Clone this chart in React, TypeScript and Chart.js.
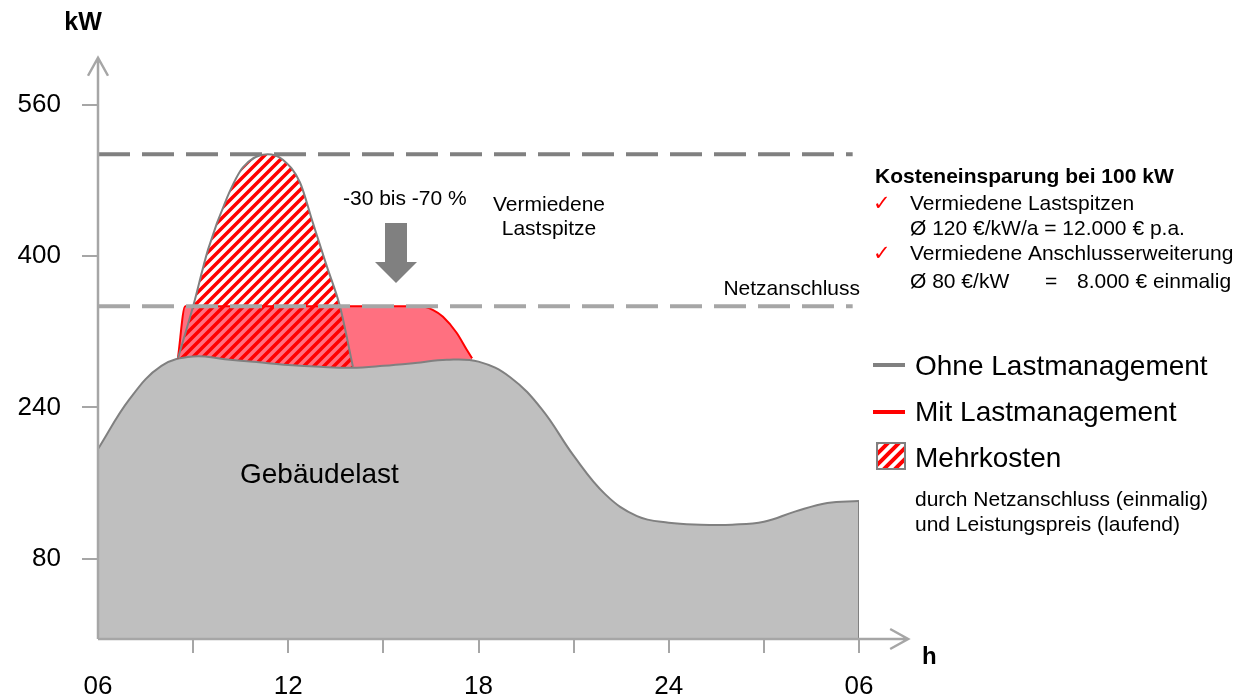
import React, { useEffect, useRef } from 'react';
import { Chart, registerables } from 'chart.js';

Chart.register(...registerables);

const FONT = '"Liberation Sans", Arial, Helvetica, sans-serif';

// Gebäudelast (Grundlast ohne Spitze), kW über Uhrzeit (h, 06 bis 06 = 30)
const loadHours = [6, 7, 8, 9, 10, 11, 12, 13, 14, 15, 16, 17, 18, 19, 20, 21, 22, 23, 24, 25, 26, 27, 28, 29, 30];
const loadValues = [196, 249, 284, 294, 291, 288, 285, 283, 282, 284, 287, 290.5, 288.5, 272, 238, 189, 148, 125, 118, 116, 116, 119, 130, 139, 141];

// Mit Lastmanagement (auf Netzanschluss begrenzt)
const withHours = [8.52, 8.75, 12, 16.2, 16.57, 16.88, 17.31, 17.63, 17.8];
const withValues = [292, 347, 347, 347, 343, 336, 319, 301, 292];

// Ohne Lastmanagement (Lastspitze)
const withoutHours = [8.52, 9.0, 9.47, 10.07, 10.57, 11.35, 11.83, 12.37, 12.78, 13.22, 13.63, 14.04];
const withoutValues = [292, 347, 407, 462, 494, 508, 502, 478, 435, 389, 347, 283];

// Referenzlinien
const peakLevel = 508;
const gridLevel = 347;
const refLineHours = [6, 29.8];

// Achsen
const xTickHours = [6, 9, 12, 15, 18, 21, 24, 27, 30];
const xTickLabels = ['06', '', '12', '', '18', '', '24', '', '06'];
const yTickValues = [80, 240, 400, 560];
const yMin = -5;
const yMax = 560;
const yArrowTop = 610;
const xArrowEnd = 31.55;

const zip = (xs: number[], ys: number[]) => xs.map((x, i) => ({ x, y: ys[i] }));

function makeHatch(ctx: CanvasRenderingContext2D, bg: string | null, size = 10, width = 3.5) {
  const c = document.createElement('canvas');
  c.width = size;
  c.height = size;
  const g = c.getContext('2d')!;
  if (bg) {
    g.fillStyle = bg;
    g.fillRect(0, 0, size, size);
  }
  g.strokeStyle = '#ff0000';
  g.lineWidth = width;
  g.beginPath();
  g.moveTo(-size / 2, size / 2);
  g.lineTo(size / 2, -size / 2);
  g.moveTo(0, size);
  g.lineTo(size, 0);
  g.moveTo(size / 2, size * 1.5);
  g.lineTo(size * 1.5, size / 2);
  g.stroke();
  return ctx.createPattern(c, 'repeat')!;
}

function text(ctx: CanvasRenderingContext2D, s: string, x: number, y: number, size: number, opts: { bold?: boolean; align?: CanvasTextAlign; color?: string; family?: string } = {}) {
  ctx.font = `${opts.bold ? 'bold ' : ''}${size}px ${opts.family || FONT}`;
  ctx.fillStyle = opts.color || '#000';
  ctx.textAlign = opts.align || 'left';
  ctx.textBaseline = 'alphabetic';
  ctx.fillText(s, x, y);
}

export default function App() {
  const ref = useRef<HTMLCanvasElement>(null);

  useEffect(() => {
    const canvas = ref.current!;
    const ctx = canvas.getContext('2d')!;
    const hatch = makeHatch(ctx, null);
    const legendHatch = makeHatch(ctx, '#ffffff', 11, 4);

    const decor = {
      id: 'decor',
      afterDatasetsDraw(chart: any) {
        const c: CanvasRenderingContext2D = chart.ctx;
        const a = chart.chartArea;
        const xs = chart.scales.x;
        const ys = chart.scales.y;
        c.save();
        // axes with arrows
        const ox = a.left;
        const oy = a.bottom;
        const topY = ys.getPixelForValue(yArrowTop);
        const rightX = xs.getPixelForValue(xArrowEnd);
        c.strokeStyle = '#a6a6a6';
        c.lineWidth = 2.5;
        c.lineJoin = 'miter';
        c.beginPath();
        c.moveTo(ox, oy);
        c.lineTo(ox, topY);
        c.moveTo(ox - 10, topY + 18);
        c.lineTo(ox, topY);
        c.lineTo(ox + 10, topY + 18);
        c.moveTo(ox, oy);
        c.lineTo(rightX, oy);
        c.moveTo(rightX - 18, oy - 10);
        c.lineTo(rightX, oy);
        c.lineTo(rightX - 18, oy + 10);
        c.stroke();

        // down arrow
        c.fillStyle = '#808080';
        c.beginPath();
        c.moveTo(385, 223);
        c.lineTo(407, 223);
        c.lineTo(407, 262);
        c.lineTo(417, 262);
        c.lineTo(396, 283);
        c.lineTo(375, 262);
        c.lineTo(385, 262);
        c.closePath();
        c.fill();

        // axis titles
        text(c, 'kW', 83, 30, 25, { bold: true, align: 'center' });
        text(c, 'h', 922, 664, 24, { bold: true });

        // annotations
        text(c, 'Gebäudelast', 240, 483, 28);
        text(c, '-30 bis -70 %', 343, 205, 21);
        text(c, 'Vermiedene', 549, 211, 21, { align: 'center' });
        text(c, 'Lastspitze', 549, 235, 21, { align: 'center' });
        text(c, 'Netzanschluss', 860, 295, 21, { align: 'right' });

        // cost block
        const check = { color: '#ff0000', family: '"DejaVu Sans", sans-serif' };
        text(c, 'Kosteneinsparung bei 100 kW', 875, 183, 21, { bold: true });
        text(c, '✓', 873, 210, 21, check);
        text(c, 'Vermiedene Lastspitzen', 910, 210, 21);
        text(c, 'Ø 120 €/kW/a = 12.000 € p.a.', 910, 235, 21);
        text(c, '✓', 873, 260, 21, check);
        text(c, 'Vermiedene Anschlusserweiterung', 910, 260, 21);
        text(c, 'Ø 80 €/kW', 910, 288, 21);
        text(c, '=', 1045, 288, 21);
        text(c, '8.000 € einmalig', 1077, 288, 21);

        // legend
        c.lineWidth = 4;
        c.strokeStyle = '#808080';
        c.beginPath();
        c.moveTo(873, 365);
        c.lineTo(905, 365);
        c.stroke();
        c.strokeStyle = '#ff0000';
        c.beginPath();
        c.moveTo(873, 412);
        c.lineTo(905, 412);
        c.stroke();
        c.fillStyle = legendHatch;
        c.fillRect(877, 443, 28, 26);
        c.strokeStyle = '#808080';
        c.lineWidth = 2;
        c.strokeRect(877, 443, 28, 26);
        text(c, 'Ohne Lastmanagement', 915, 375, 28);
        text(c, 'Mit Lastmanagement', 915, 421, 28);
        text(c, 'Mehrkosten', 915, 467, 28);
        text(c, 'durch Netzanschluss (einmalig)', 915, 506, 21);
        text(c, 'und Leistungspreis (laufend)', 915, 531, 21);
        c.restore();
      },
    };

    const last = loadHours.length - 1;
    const chart = new Chart(canvas, {
      type: 'line',
      data: {
        datasets: [
          {
            label: 'Netzanschluss',
            data: refLineHours.map((h) => ({ x: h, y: gridLevel })),
            borderColor: '#a6a6a6',
            borderWidth: 4,
            borderDash: [32, 12],
            borderCapStyle: 'butt',
            fill: false,
            pointRadius: 0,
            order: 0,
          },
          {
            label: 'Vermiedene Lastspitze',
            data: refLineHours.map((h) => ({ x: h, y: peakLevel })),
            borderColor: '#808080',
            borderWidth: 4,
            borderDash: [32, 12],
            borderCapStyle: 'butt',
            fill: false,
            pointRadius: 0,
            order: 1,
          },
          {
            label: 'Gebäudelast',
            data: zip(loadHours, loadValues),
            borderColor: '#808080',
            borderWidth: 2,
            backgroundColor: '#bfbfbf',
            fill: 'start',
            tension: 0.4,
            pointRadius: 0,
            order: 5,
          },
          {
            label: 'Mit Lastmanagement',
            data: zip(withHours, withValues),
            borderColor: '#ff0000',
            borderWidth: 2,
            backgroundColor: '#ff7080',
            fill: 2,
            cubicInterpolationMode: 'monotone',
            pointRadius: 0,
            order: 4,
          },
          {
            label: 'Ohne Lastmanagement',
            data: zip(withoutHours, withoutValues),
            borderColor: '#808080',
            borderWidth: 2,
            backgroundColor: hatch as any,
            fill: 2,
            cubicInterpolationMode: 'monotone',
            pointRadius: 0,
            order: 3,
          },
          {
            label: 'Rand',
            data: [
              { x: loadHours[last], y: loadValues[last] },
              { x: loadHours[last], y: yMin },
            ],
            borderColor: '#808080',
            borderWidth: 2,
            fill: false,
            pointRadius: 0,
            order: 2,
          },
        ] as any,
      },
      options: {
        responsive: false,
        animation: false,
        layout: { padding: { left: 0, top: 105, right: 384, bottom: 0 } },
        plugins: {
          legend: { display: false },
          tooltip: { enabled: false },
          filler: { drawTime: 'beforeDatasetsDraw' } as any,
        },
        events: [],
        scales: {
          x: {
            type: 'linear',
            min: 6,
            max: 30,
            border: { display: false },
            grid: {
              drawOnChartArea: false,
              drawTicks: true,
              tickLength: 14,
              lineWidth: 2,
              color: (c: any) => (c.tick && c.tick.value === xTickHours[0] ? 'rgba(0,0,0,0)' : '#a6a6a6'),
            },
            afterBuildTicks: (s: any) => {
              s.ticks = xTickHours.map((v) => ({ value: v }));
            },
            afterFit: (s: any) => {
              s.height = 59;
            },
            ticks: {
              autoSkip: false,
              maxRotation: 0,
              padding: 18,
              color: '#000',
              font: { family: FONT, size: 26 },
              callback: (_v: any, i: number) => xTickLabels[i],
            },
          },
          y: {
            type: 'linear',
            min: yMin,
            max: yMax,
            border: { display: false },
            grid: {
              drawOnChartArea: false,
              drawTicks: true,
              tickLength: 16,
              lineWidth: 2,
              color: '#a6a6a6',
            },
            afterBuildTicks: (s: any) => {
              s.ticks = yTickValues.map((v) => ({ value: v }));
            },
            afterFit: (s: any) => {
              s.width = 98;
            },
            ticks: {
              padding: 21,
              color: '#000',
              font: { family: FONT, size: 26 },
              callback: (v: any) => String(v),
            },
          },
        },
      },
      plugins: [decor],
    } as any);

    return () => chart.destroy();
  }, []);

  return (
    <div style={{ position: 'fixed', left: 0, top: 0, width: 1243, height: 698, background: '#ffffff' }}>
      <canvas ref={ref} width={1243} height={698} style={{ display: 'block', width: 1243, height: 698 }} />
    </div>
  );
}
